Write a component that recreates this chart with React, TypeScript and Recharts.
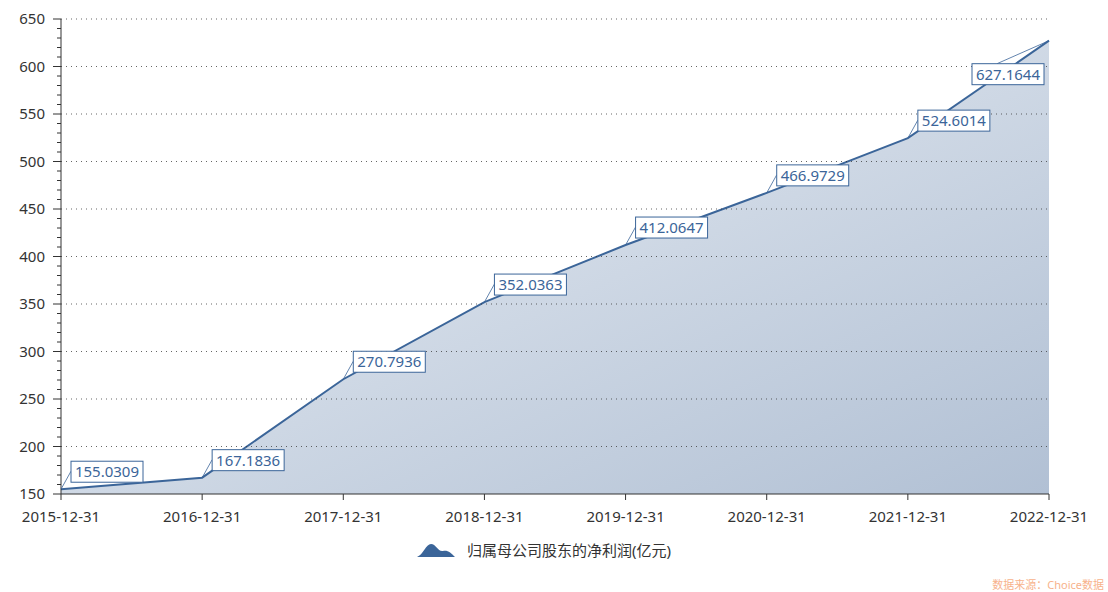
import React from 'react';
import { AreaChart, Area, XAxis, YAxis, ReferenceLine, LabelList } from 'recharts';

const categories = ['2015-12-31', '2016-12-31', '2017-12-31', '2018-12-31', '2019-12-31', '2020-12-31', '2021-12-31', '2022-12-31'];
const netProfit = [155.0309, 167.1836, 270.7936, 352.0363, 412.0647, 466.9729, 524.6014, 627.1644];
const majorTicks = [150, 200, 250, 300, 350, 400, 450, 500, 550, 600, 650];
const seriesName = '归属母公司股东的净利润(亿元)';
const sourceText = '数据来源：Choice数据';

const minorTicks: number[] = [];
for (let v = 150; v <= 650; v += 10) minorTicks.push(v);

const data = categories.map((date, i) => ({ date, value: netProfit[i] }));

const LINE = '#3b6599';
const FONT = '"Noto Sans", "Noto Sans CJK SC", sans-serif';

const YTick = (props: any) => {
  const { x, y, payload } = props;
  const major = payload.value % 50 === 0;
  return (
    <g>
      <line x1={x - (major ? 8 : 4)} x2={x} y1={y} y2={y} stroke="#333" strokeWidth={1} />
      {major && (
        <text x={x - 16} y={y} dy="0.36em" textAnchor="end" fontSize={15} fill="#333" fontFamily={FONT}>
          {payload.value}
        </text>
      )}
    </g>
  );
};

const PointLabel = (props: any) => {
  const { x, y, value, index } = props;
  const last = index === netProfit.length - 1;
  const w = 72;
  const h = 21;
  const bx = last ? x - 77 : x + 10;
  const by = last ? y + 23 : y - 28;
  const lx = last ? x - 52 : x + 10;
  const ly = last ? y + 23 : y - 18;
  return (
    <g>
      <line x1={x} y1={y} x2={lx} y2={ly} stroke={LINE} strokeWidth={0.8} />
      <rect x={bx} y={by} width={w} height={h} fill="#fff" stroke={LINE} strokeWidth={1} />
      <text x={bx + w / 2} y={by + h / 2} dy="0.36em" textAnchor="middle" fontSize={15} fill={LINE} fontFamily={FONT}>
        {Number(value).toFixed(4)}
      </text>
    </g>
  );
};

export default function App() {
  return (
    <div style={{ position: 'absolute', left: 0, top: 0, width: 1108, height: 592, background: '#fff', fontFamily: FONT }}>
      <AreaChart width={1108} height={592} data={data} margin={{ top: 19, right: 59, bottom: 68, left: 11 }}>
        <defs>
          <linearGradient id="areaFill" x1="0" y1="0" x2="1" y2="1">
            <stop offset="0%" stopColor="#eef2f7" />
            <stop offset="100%" stopColor="#b1c0d4" />
          </linearGradient>
        </defs>
        <XAxis
          dataKey="date"
          interval={0}
          stroke="#333"
          tickSize={6}
          tickMargin={11}
          tick={{ fontSize: 15, fill: '#333', fontFamily: FONT }}
        />
        <YAxis
          domain={[150, 650]}
          ticks={minorTicks}
          interval={0}
          width={50}
          stroke="#333"
          tickLine={false}
          tickSize={0}
          tickMargin={0}
          tick={<YTick />}
        />
        <Area
          type="linear"
          dataKey="value"
          name={seriesName}
          stroke={LINE}
          strokeWidth={2}
          fill="url(#areaFill)"
          fillOpacity={1}
          dot={false}
          activeDot={false}
          isAnimationActive={false}
        >
          <LabelList dataKey="value" content={<PointLabel />} />
        </Area>
        {majorTicks.slice(1).map((v) => (
          <ReferenceLine key={v} y={v} stroke="#333" strokeOpacity={0.75} strokeDasharray="1 4" />
        ))}
      </AreaChart>
      <div
        style={{
          position: 'absolute',
          left: -10,
          top: 540,
          width: 1108,
          display: 'flex',
          justifyContent: 'center',
          alignItems: 'center',
        }}
      >
        <svg width={38} height={14} style={{ marginRight: 12 }}>
          <path d="M0 14 C6 12 9 1 14 1 C19 1 21 9 26 8 C31 7 34 10 38 14 Z" fill={LINE} />
        </svg>
        <span style={{ fontSize: 15, color: '#333', lineHeight: '20px' }}>{seriesName}</span>
      </div>
      <div style={{ position: 'absolute', right: 4, top: 576, fontSize: 11, color: '#f7b28c' }}>{sourceText}</div>
    </div>
  );
}
